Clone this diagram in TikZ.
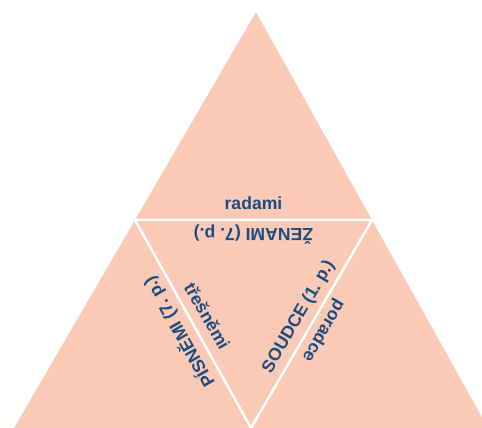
\documentclass[tikz,border=0pt]{standalone}
\usepackage{fontspec}
\setmainfont{Liberation Sans}
\usetikzlibrary{calc}
\definecolor{peach}{RGB}{251,202,182}
\definecolor{wordblue}{RGB}{26,76,130}
\tikzstyle{piece}=[fill=peach]
\tikzstyle{cut}=[draw=white,line width=2.5pt,line join=miter]
\tikzstyle{word}=[text=wordblue,anchor=base,inner sep=0pt,font=\bfseries\fontsize{17.6}{20}\selectfont]

\begin{document}
\begin{tikzpicture}[x=1pt,y=1pt]
  \useasboundingbox (0,0) rectangle (482,428);
  % big triangle and the cut into four pieces
  \coordinate (top) at (256,416);
  \coordinate (left) at (14,0);
  \coordinate (right) at (488,0);
  \coordinate (midL) at ($(top)!0.5!(left)$);
  \coordinate (midR) at ($(top)!0.5!(right)$);
  \coordinate (midB) at ($(left)!0.5!(right)$);
  \fill[piece] (top) -- (left) -- (right) -- cycle;
  \draw[cut] (midL) -- (midR) -- (midB) -- cycle;
  % centres of the cut edges
  \coordinate (cT) at ($(midL)!0.5!(midR)$);
  \coordinate (cL) at ($(midL)!0.5!(midB)$);
  \coordinate (cR) at ($(midR)!0.5!(midB)$);
  % words on the edges
  \node[word] (radami) at ($(cT)!10pt!90:(midR)$) {radami};
  \node[word,rotate=180] (zenami) at ($(cT)!9pt!-90:(midR)$) {ŽENAMI (7.~p.)};
  \node[word,rotate=-60] (tresnemi) at ($(cL)!10pt!90:(midB)$) {třešněmi};
  \node[word,rotate=120] (pisnemi) at ($(cL)!10pt!-90:(midB)$) {PÍSNĚMI (7.~p.)};
  \node[word,rotate=60] (soudce) at ($(cR)!10pt!-90:(midB)$) {SOUDCE (1.~p.)};
  \node[word,rotate=-120] (poradce) at ($(cR)!9pt!90:(midB)$) {poradce};
\end{tikzpicture}
\end{document}
